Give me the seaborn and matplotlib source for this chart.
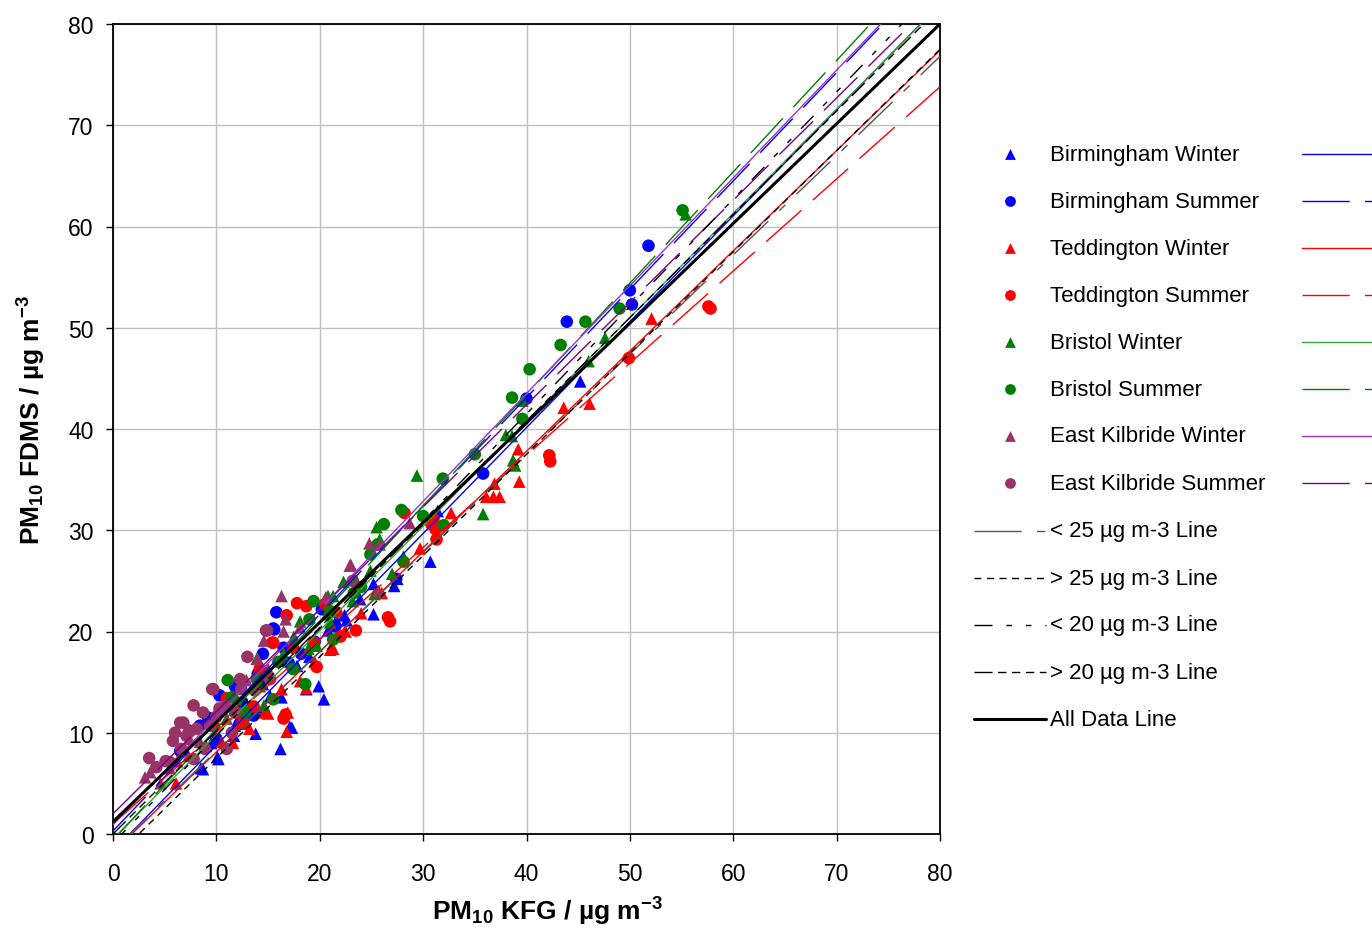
import numpy as np
import pandas as pd
import matplotlib
matplotlib.use("Agg")
import matplotlib.pyplot as plt
import seaborn as sns

# ---------------- data ----------------
groups = ["Birmingham Winter", "Birmingham Summer", "Teddington Winter", "Teddington Summer",
          "Bristol Winter", "Bristol Summer", "East Kilbride Winter", "East Kilbride Summer"]

bw_x = [45.2, 30.7, 31.4, 27.5, 25.2, 23.9, 22.6, 21.6, 20.4, 19.9, 20.8, 17.1, 16.2, 17.3, 12.6, 10.1,
        8.5, 8.7, 10.2, 11.8, 11.7, 13.9, 16.3, 18.7, 13.8, 15.2, 22.4, 19.0, 17.8, 14.5, 12.2, 9.5, 27.2, 25.2]
bw_y = [44.7, 26.9, 31.9, 25.2, 21.7, 23.2, 21.1, 21.1, 13.3, 14.6, 20.1, 10.6, 8.4, 10.5, 10.9, 7.6,
        6.5, 6.4, 7.4, 10.7, 9.7, 12.5, 13.5, 14.3, 9.9, 13.6, 21.6, 17.5, 16.6, 14.8, 11.5, 9.0, 24.5, 24.7]

bs_x = [51.8, 50.0, 50.2, 43.9, 40.0, 35.8, 15.8, 15.6, 20.2, 15.5, 10.3, 7.4, 8.4, 6.5, 14.5, 16.5,
        11.8, 13.6, 10.0, 27.4, 18.2, 19.5, 17.0, 12.5, 9.2, 21.5, 14.0]
bs_y = [58.1, 53.7, 52.3, 50.6, 43.0, 35.6, 21.9, 20.2, 22.2, 20.3, 13.7, 10.2, 10.7, 8.2, 17.8, 18.4,
        14.6, 11.7, 9.4, 25.2, 17.8, 19.0, 16.9, 13.0, 11.5, 20.5, 15.8]

tw_x = [52.1, 46.1, 43.6, 39.2, 39.3, 36.9, 36.1, 36.8, 37.4, 32.7, 29.7, 21.0, 18.7, 16.9, 14.7, 16.8,
        6.1, 15.0, 13.2, 11.6, 10.5, 21.3, 18.1, 16.3, 24.0, 26.0, 12.2, 19.5, 22.5, 9.0]
tw_y = [50.9, 42.5, 42.1, 38.0, 34.8, 34.6, 33.3, 33.3, 33.3, 31.7, 28.2, 18.2, 14.4, 12.0, 12.0, 10.1,
        5.0, 11.9, 10.4, 9.0, 9.1, 18.3, 15.1, 14.3, 21.8, 23.8, 11.0, 17.0, 20.0, 8.7]

ts_x = [57.6, 57.8, 49.9, 42.2, 42.3, 31.0, 31.3, 30.8, 28.2, 26.8, 26.6, 23.5, 20.5, 17.8, 16.7, 16.8,
        15.4, 21.6, 16.5, 15.5, 14.2, 11.0, 12.6, 19.4, 17.4, 13.6, 18.7, 19.7, 31.2, 12.0, 9.8, 22.0]
ts_y = [52.1, 51.9, 47.0, 37.4, 36.8, 31.1, 29.1, 30.6, 31.7, 21.0, 21.4, 20.1, 22.7, 22.8, 11.8, 21.6,
        18.9, 21.9, 11.4, 18.9, 16.3, 13.4, 11.0, 18.9, 18.4, 12.6, 22.5, 16.5, 30.1, 12.0, 10.6, 19.5]

brw_x = [55.4, 47.6, 46.0, 39.6, 38.0, 38.6, 38.7, 38.9, 35.8, 29.4, 28.1, 25.8, 25.5, 24.9, 27.0, 25.3,
         22.3, 21.0, 20.8, 13.9, 18.1, 19.7, 20.7, 21.3, 14.6, 18.9, 12.0, 14.2, 16.5, 17.5, 23.2]
brw_y = [61.2, 49.0, 46.7, 42.8, 39.4, 39.3, 36.9, 36.4, 31.6, 35.4, 27.4, 29.1, 30.3, 26.0, 25.7, 23.7,
         24.9, 20.9, 23.5, 17.3, 21.0, 18.6, 21.7, 23.5, 12.7, 18.3, 13.3, 14.6, 17.8, 19.5, 23.0]

brs_x = [55.1, 49.0, 45.7, 43.3, 40.3, 38.6, 39.6, 35.0, 31.9, 32.0, 30.0, 27.9, 26.2, 25.6, 24.9, 23.3,
         24.0, 21.3, 19.4, 19.0, 11.1, 12.8, 17.4, 18.6, 15.5, 11.5, 13.9, 28.1, 21.0, 16.0]
brs_y = [61.6, 51.9, 50.6, 48.3, 45.9, 43.1, 41.0, 37.5, 35.1, 30.5, 31.4, 32.0, 30.6, 28.6, 27.6, 23.8,
         24.4, 19.2, 23.0, 21.2, 15.2, 12.0, 16.3, 14.8, 13.3, 13.5, 15.3, 26.9, 22.0, 17.0]

ekw_x = [28.7, 25.8, 24.8, 23.0, 22.9, 25.7, 20.6, 16.3, 16.7, 16.5, 18.1, 14.6, 12.9, 14.0, 15.0, 11.0,
         9.9, 3.1, 3.6, 4.6, 7.4, 7.3, 8.4, 6.2, 5.5]
ekw_y = [30.7, 28.6, 28.7, 26.6, 26.5, 24.0, 23.4, 23.5, 21.2, 20.0, 20.4, 19.1, 15.2, 17.3, 16.3, 11.4,
         11.7, 5.6, 6.1, 5.0, 9.4, 7.7, 9.1, 7.2, 6.5]

eks_x = [23.2, 14.8, 14.9, 13.0, 9.7, 7.8, 6.8, 6.0, 3.5, 5.5, 7.1, 8.7, 9.4, 10.3, 11.8, 12.3, 13.7,
         15.0, 8.9, 7.8, 6.6, 11.0, 8.1, 5.1, 5.8, 6.5, 7.4, 9.6, 10.9, 12.4, 15.2, 4.2, 10.0, 11.5]
eks_y = [25.0, 20.1, 20.1, 17.5, 14.3, 12.7, 11.0, 10.0, 7.5, 7.1, 9.7, 12.0, 10.7, 12.4, 12.0, 15.3, 14.2,
         15.6, 8.4, 7.4, 8.4, 8.4, 10.4, 7.2, 9.2, 11.0, 10.1, 14.3, 12.6, 14.3, 15.3, 6.6, 11.6, 10.0]

xs_all = [bw_x, bs_x, tw_x, ts_x, brw_x, brs_x, ekw_x, eks_x]
ys_all = [bw_y, bs_y, tw_y, ts_y, brw_y, brs_y, ekw_y, eks_y]

# regression lines: intercept, slope
group_intercepts = [-1.7, 0.3, -1.8, 1.0, -0.5, -0.6, 0.9, 2.0]
group_slopes = [1.046, 1.07, 0.99, 0.91, 1.03, 1.10, 1.065, 1.01]

extra_lines = ["< 25 µg m-3 Line", "> 25 µg m-3 Line", "< 20 µg m-3 Line", "> 20 µg m-3 Line", "All Data Line"]
extra_intercepts = [-1.6, -2.5, -0.9, 0.0, 1.2]
extra_slopes = [0.98, 1.0, 1.06, 1.02, 0.985]

x_ticks = [0, 10, 20, 30, 40, 50, 60, 70, 80]

# ---------------- styles ----------------
point_colors = ["#0000FF", "#0000FF", "#FF0000", "#FF0000", "#008000", "#008000", "#993366", "#993366"]
point_markers = ["^", "o", "^", "o", "^", "o", "^", "o"]
line_colors = ["#0000FF", "#0000FF", "#FF0000", "#FF0000", "#3C9E3C", "#008000", "#9933CC", "#800080"]
LONG = (34, 11)
line_dashes = [None, LONG, None, LONG, None, LONG, None, LONG]
extra_colors = ["#555555", "#000000", "#000000", "#000000", "#000000"]
extra_dashes = [(34, 11, 6, 11), (5, 4), (13, 10, 4, 10, 4, 10), (13, 4, 6, 4, 6, 4, 6, 4), None]
extra_widths = [1.0, 1.0, 1.0, 1.0, 2.2]

sns.set_theme(style="white")
plt.rcParams["font.family"] = ["Liberation Sans", "DejaVu Sans"]
plt.rcParams["mathtext.fontset"] = "custom"
plt.rcParams["mathtext.rm"] = "Liberation Sans"
plt.rcParams["mathtext.bf"] = "Liberation Sans:bold"
plt.rcParams["mathtext.it"] = "Liberation Sans:italic"
plt.rcParams["text.color"] = "black"
plt.rcParams["axes.labelcolor"] = "black"
plt.rcParams["xtick.color"] = "black"
plt.rcParams["ytick.color"] = "black"

W, H = 1372, 929
fig = plt.figure(figsize=(W / 100, H / 100), dpi=100)
fig.patch.set_facecolor("white")

# legend canvas (pixel coordinates)
lax = fig.add_axes([0, 0, 1, 1])
lax.set_xlim(0, W)
lax.set_ylim(H, 0)
lax.axis("off")

ax = fig.add_axes([113 / W, (H - 835) / H, 827 / W, 810 / H])

rows = []
for g, xv, yv in zip(groups, xs_all, ys_all):
    for a, b in zip(xv, yv):
        rows.append((g, a, b))
df = pd.DataFrame(rows, columns=["group", "kfg", "fdms"])

sns.scatterplot(data=df, x="kfg", y="fdms", hue="group", style="group",
                hue_order=groups, style_order=groups,
                palette=dict(zip(groups, point_colors)),
                markers=dict(zip(groups, point_markers)),
                s=82, linewidth=0, legend=False, ax=ax, zorder=2)

xl = np.array([0.0, 80.0])
for a, b, c, d in zip(group_intercepts, group_slopes, line_colors, line_dashes):
    ln, = ax.plot(xl, a + b * xl, color=c, lw=1.0, zorder=3)
    if d:
        ln.set_dashes(d)
for a, b, c, d, w in zip(extra_intercepts, extra_slopes, extra_colors, extra_dashes, extra_widths):
    ln, = ax.plot(xl, a + b * xl, color=c, lw=w, zorder=4)
    if d:
        ln.set_dashes(d)

ax.set_xlim(0, 80)
ax.set_ylim(0, 80)
ax.set_xticks(x_ticks)
ax.set_yticks(x_ticks)
ax.grid(True, color="#C0C0C0", lw=1.0)
ax.set_axisbelow(True)
for sp in ax.spines.values():
    sp.set_color("black")
    sp.set_linewidth(1.3)
ax.tick_params(axis="both", direction="out", length=5, width=1.0, color="black",
               labelsize=16.5, labelcolor="black")
ax.tick_params(axis="x", pad=15, bottom=True)
ax.tick_params(axis="y", pad=9, left=True)

ax.set_xlabel(r"PM$_{\mathbf{10}}$ KFG / µg m$^{\mathbf{-3}}$", fontsize=19, fontweight="bold", color="black")
ax.set_ylabel(r"PM$_{\mathbf{10}}$ FDMS / µg m$^{\mathbf{-3}}$", fontsize=19, fontweight="bold", color="black")
ax.xaxis.set_label_coords((547 - 113) / 827, (835 - 896) / 810)
ax.yaxis.set_label_coords((48 - 113) / 827, (835 - 420) / 810)

# ---------------- legend ----------------
ys_leg = [155, 202, 249, 296, 343, 390, 437, 484]
for g, yy, pc, pm, lc, ld in zip(groups, ys_leg, point_colors, point_markers, line_colors, line_dashes):
    lax.scatter([1010], [yy], marker=pm, s=60, color=pc, linewidths=0)
    lax.text(1050, yy, g, fontsize=16, va="center", ha="left", color="black")
    ln, = lax.plot([1302, 1400], [yy, yy], color=lc, lw=1.0)
    if ld:
        ln.set_dashes(ld)

ys_leg2 = [532, 579, 626, 673, 720]
for name, yy, c, d, w in zip(extra_lines, ys_leg2, extra_colors, extra_dashes, extra_widths):
    ln, = lax.plot([974, 1046], [yy, yy], color=c, lw=w)
    if d:
        ln.set_dashes(d)
    lax.text(1050, yy, name, fontsize=16, va="center", ha="left", color="black")

fig.savefig("out.png", dpi=100, facecolor="white")
